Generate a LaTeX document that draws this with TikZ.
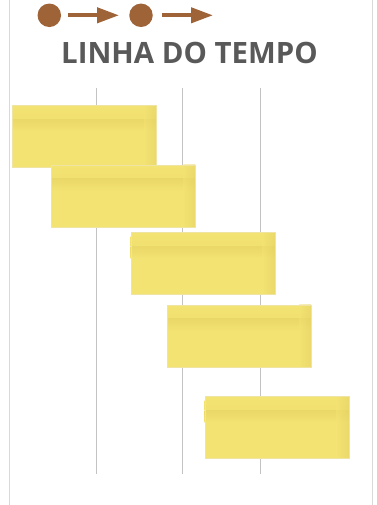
\documentclass[tikz,border=0pt]{standalone}
\usepackage{fontspec}
\newfontfamily\titlefont{Open Sans}
\usetikzlibrary{arrows.meta,calc}
\definecolor{noteY}{RGB}{243,227,115}
\definecolor{noteD}{RGB}{234,216,104}
\definecolor{noteE}{RGB}{228,210,100}
\definecolor{brownC}{RGB}{158,100,56}
\definecolor{titleC}{RGB}{89,89,89}
\definecolor{frameC}{RGB}{217,217,217}
\definecolor{gridC}{RGB}{195,195,195}
\tikzset{
  note/.style={minimum width=144pt, minimum height=62pt, inner sep=0pt, fill=noteY,
    draw=noteE!60!white, line width=0.3pt,
    path picture={
      \shade[top color=noteY, bottom color=noteD]
        ($(path picture bounding box.north west)+(0,4)$) rectangle
        ($(path picture bounding box.north east)+(0,14)$);
      \shade[top color=noteD, bottom color=noteY]
        ($(path picture bounding box.north west)+(0,14)$) rectangle
        ($(path picture bounding box.north east)+(0,26)$);
      \shade[left color=noteY, right color=noteE, opacity=0.5]
        ($(path picture bounding box.north east)+(-12,0)$) rectangle
        (path picture bounding box.south east);
    }},
  dot/.style={circle, fill=brownC, minimum size=23.5pt, inner sep=0pt},
  arr/.style={draw=brownC, line width=4pt, -{Triangle[length=22pt,width=15pt]}},
  grid/.style={draw=gridC, line width=1.5pt},
  frame/.style={draw=frameC, line width=1pt}
}
\begin{document}
\begin{tikzpicture}[x=1pt,y=-1pt]
\useasboundingbox (0,0) rectangle (376,505);
% frame
\draw[frame] (9.5,0) -- (9.5,505);
\draw[frame] (372.5,0) -- (372.5,505);
% grid lines
\draw[grid] (96.5,88) -- (96.5,474);
\draw[grid] (182.5,88) -- (182.5,474);
\draw[grid] (260.5,88) -- (260.5,474);
% header icon
\node[dot] (c1) at (49.3,15.3) {};
\node[dot] (c2) at (141,15.3) {};
\coordinate (e) at (213,15.3);
\draw[arr, shorten <=7pt, shorten >=10pt] (c1) -- (c2);
\draw[arr, shorten <=9pt] (c2) -- (e);
% title
\node[anchor=base, text=titleC, inner sep=0pt, font=\titlefont\bfseries\fontsize{29.4}{32}\selectfont] (title) at (189.5,63.3) {LINHA DO TEMPO};
% notes
\node[note] (b1) at (84,136.3) {};
\node[note] (b2) at (123.3,195.7) {};
\node[note] (b3) at (202.7,263.5) {};
\node[note] (b4) at (239,335.8) {};
\node[note] (b5) at (276.7,427.5) {};
\end{tikzpicture}
\end{document}
